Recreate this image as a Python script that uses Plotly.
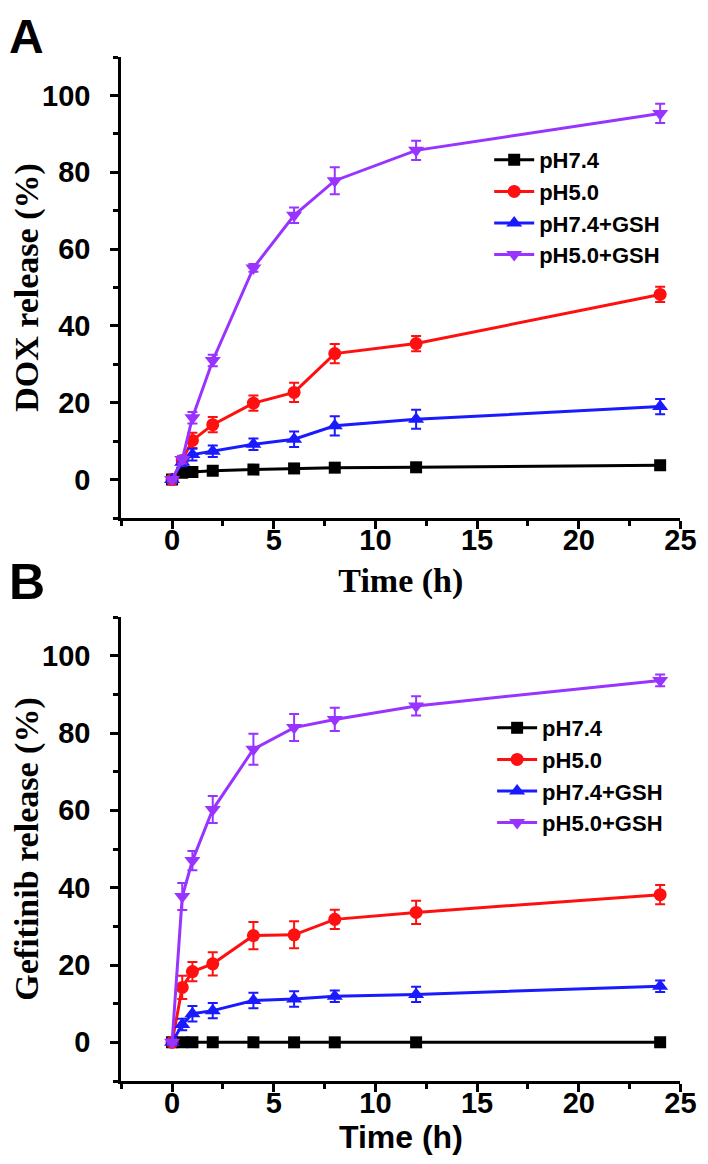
import plotly.graph_objects as go

# ---------------- data ----------------
time_h = [0, 0.5, 1, 2, 4, 6, 8, 12, 24]
series_names = ["pH7.4", "pH5.0", "pH7.4+GSH", "pH5.0+GSH"]

# Panel A: DOX release (%)
dox_ph74 = [0, 1.8, 2.0, 2.3, 2.6, 2.9, 3.1, 3.2, 3.7]
dox_ph50 = [0, 5.0, 10.2, 14.3, 19.9, 22.7, 32.8, 35.4, 48.2]
dox_ph74_gsh = [0, 4.5, 6.5, 7.4, 9.2, 10.5, 14.0, 15.7, 19.0]
dox_ph50_gsh = [0, 5.2, 16.1, 31.0, 55.1, 68.8, 77.8, 85.7, 95.3]
dox_ph74_err = [0.3, 0.3, 0.3, 0.3, 0.3, 0.3, 0.3, 0.3, 0.3]
dox_ph50_err = [0.5, 1.0, 2.0, 2.0, 2.0, 2.5, 2.5, 2.0, 2.0]
dox_ph74_gsh_err = [0.5, 1.0, 1.5, 1.5, 1.5, 2.0, 2.5, 2.5, 2.0]
dox_ph50_gsh_err = [0.5, 1.0, 1.5, 1.5, 1.0, 2.0, 3.5, 2.5, 2.5]

# Panel B: Gefitinib release (%)
gef_ph74 = [0, 0, 0, 0, 0, 0, 0, 0, 0]
gef_ph50 = [0, 14.2, 18.3, 20.3, 27.6, 27.8, 31.8, 33.6, 38.2]
gef_ph74_gsh = [0, 4.6, 7.4, 8.2, 10.8, 11.2, 11.9, 12.4, 14.5]
gef_ph50_gsh = [0, 37.7, 47.0, 60.2, 75.8, 81.4, 83.5, 87.0, 93.6]
gef_ph74_err = [0, 0, 0, 0, 0, 0, 0, 0, 0]
gef_ph50_err = [0.5, 3.0, 2.5, 3.0, 3.5, 3.5, 2.5, 3.0, 2.5]
gef_ph74_gsh_err = [0.5, 1.5, 2.0, 2.0, 2.0, 2.0, 1.5, 2.0, 1.5]
gef_ph50_gsh_err = [0.5, 3.5, 2.5, 3.5, 4.0, 3.5, 3.0, 2.5, 1.5]

x_ticks = [0, 5, 10, 15, 20, 25]
y_ticks = [0, 20, 40, 60, 80, 100]

# ---------------- style ----------------
colors = ["#000000", "#ff1010", "#1a1aff", "#9933ff"]
symbols = ["square", "circle", "triangle-up", "triangle-down"]
msizes = [12, 13, 14, 14]
SANS = "Liberation Sans, Arial, sans-serif"
SERIF = "Liberation Serif, Times New Roman, serif"

fig = go.Figure()

panels = [
    ([dox_ph74, dox_ph50, dox_ph74_gsh, dox_ph50_gsh],
     [dox_ph74_err, dox_ph50_err, dox_ph74_gsh_err, dox_ph50_gsh_err], "x", "y", "legend"),
    ([gef_ph74, gef_ph50, gef_ph74_gsh, gef_ph50_gsh],
     [gef_ph74_err, gef_ph50_err, gef_ph74_gsh_err, gef_ph50_gsh_err], "x2", "y2", "legend2"),
]

for vals, errs, xa, ya, lg in panels:
    for name, v, e, c, s, ms in zip(series_names, vals, errs, colors, symbols, msizes):
        fig.add_trace(go.Scatter(
            x=time_h, y=v, name=name, mode="lines+markers",
            xaxis=xa, yaxis=ya, legend=lg,
            line=dict(color=c, width=3),
            marker=dict(symbol=s, size=ms, color=c),
            error_y=dict(type="data", array=e, color=c, thickness=2, width=5, visible=True),
        ))

axis_common = dict(
    showline=True, linecolor="black", linewidth=3, mirror=False,
    ticks="outside", ticklen=8, tickwidth=3, tickcolor="black",
    showgrid=False, zeroline=False,
    tickfont=dict(family=SANS, size=29, color="black", weight="bold"),
)
x_minor = dict(dtick=2.5, tick0=-2.5, ticks="outside", ticklen=5, tickwidth=3, tickcolor="black")
y_minor = dict(dtick=10, tick0=-10, ticks="outside", ticklen=5, tickwidth=3, tickcolor="black")

x_dom = [115 / 708, 688 / 708]
yA_dom = [1 - 510 / 1164, 1 - 49 / 1164]
yB_dom = [1 - 1073 / 1164, 1 - 609 / 1164]

legend_font = dict(family=SANS, size=22, color="black", weight="bold")

fig.update_layout(
    width=708, height=1164,
    margin=dict(l=0, r=0, t=0, b=0),
    paper_bgcolor="white", plot_bgcolor="white",
    showlegend=True,
    xaxis=dict(axis_common, domain=x_dom, range=[-2.5, 25], tickvals=x_ticks, minor=x_minor,
               anchor="y", ticklabelstandoff=-14,
               title=dict(text="Time (h)", font=dict(family=SERIF, size=34, color="black", weight="bold"), standoff=14)),
    yaxis=dict(axis_common, domain=yA_dom, range=[-10, 110], tickvals=y_ticks, minor=y_minor,
               anchor="x", ticklabelstandoff=14,
               title=dict(text="DOX release (%)", font=dict(family=SERIF, size=34, color="black", weight="bold"), standoff=10)),
    xaxis2=dict(axis_common, domain=x_dom, range=[-2.5, 25], tickvals=x_ticks, minor=x_minor,
                anchor="y2", ticklabelstandoff=-14,
                title=dict(text="Time (h)", font=dict(family=SANS, size=32, color="black", weight="bold"), standoff=0)),
    yaxis2=dict(axis_common, domain=yB_dom, range=[-10, 110], tickvals=y_ticks, minor=y_minor,
                anchor="x2", ticklabelstandoff=14,
                title=dict(text="Gefitinib release (%)", font=dict(family=SERIF, size=34, color="black", weight="bold"), standoff=10)),
    legend=dict(x=492 / 708, xanchor="left", y=1 - 131 / 1164, yanchor="top",
                bgcolor="rgba(0,0,0,0)", font=legend_font, tracegroupgap=0, itemwidth=40),
    legend2=dict(x=495 / 708, xanchor="left", y=1 - 699 / 1164, yanchor="top",
                 bgcolor="rgba(0,0,0,0)", font=legend_font, tracegroupgap=0, itemwidth=40),
    annotations=[
        dict(text="A", x=0, y=1, xref="paper", yref="paper", xanchor="left", yanchor="top",
             showarrow=False, font=dict(family=SANS, size=48, color="black", weight="bold"), xshift=-2),
        dict(text="B", x=0, y=1 - 544 / 1164, xref="paper", yref="paper", xanchor="left", yanchor="top",
             showarrow=False, font=dict(family=SANS, size=50, color="black", weight="bold"), xshift=-2),
    ],
)

fig.write_html("out.html")
